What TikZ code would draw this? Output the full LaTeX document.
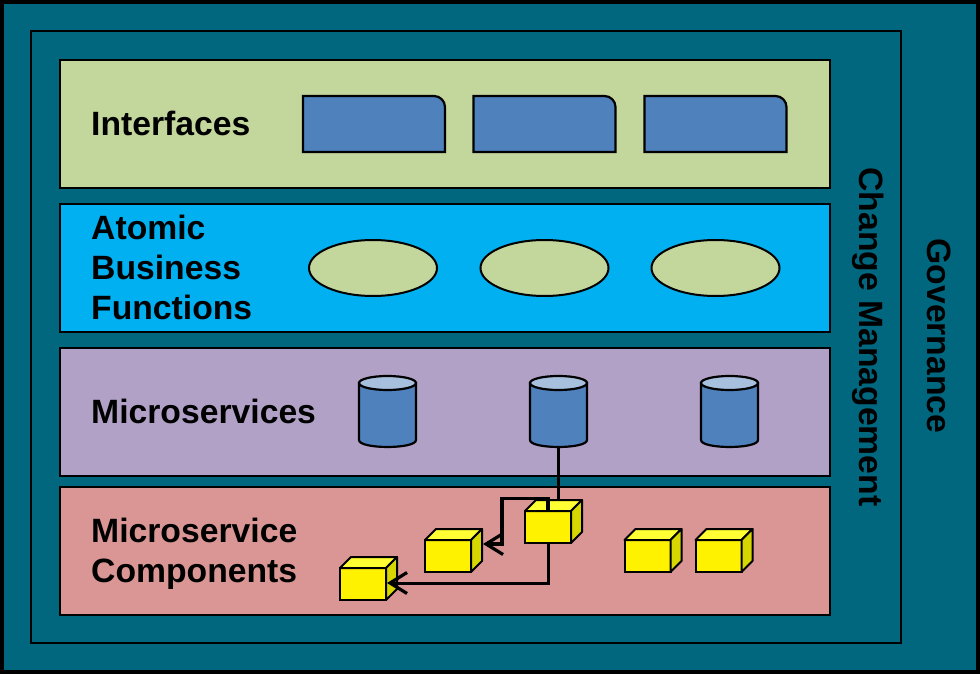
\documentclass[tikz,border=0pt]{standalone}
\usepackage{fontspec}
\setmainfont{Liberation Sans}
\usetikzlibrary{arrows.meta,shapes.geometric}
\definecolor{teal1}{HTML}{00677F}
\definecolor{greenb}{HTML}{C3D69B}
\definecolor{blueb}{HTML}{00B0F0}
\definecolor{purpb}{HTML}{B2A1C7}
\definecolor{redb}{HTML}{D99694}
\definecolor{shapeb}{HTML}{4F81BD}
\definecolor{cyltop}{HTML}{A7C0DE}
\definecolor{cubeside}{HTML}{D6D600}
\definecolor{cubetop}{HTML}{FFFF33}
\tikzset{
  frame/.style={draw=black,line width=2.6pt,fill=teal1,inner sep=0pt,outer sep=0pt},
  band/.style={draw=black,line width=2pt,inner sep=0pt,outer sep=0pt,minimum width=770pt,minimum height=128pt},
  lbl/.style={font=\bfseries\fontsize{33.7}{40}\selectfont,align=left,inner sep=0pt,anchor=west,text=black},
  vlbl/.style={font=\bfseries\fontsize{33.7}{40}\selectfont,inner sep=0pt,rotate=-90,text=black},
  tabshape/.style={inner sep=0pt,outer sep=0pt,minimum width=142pt,minimum height=56pt},
  oval/.style={ellipse,draw=black,line width=2pt,fill=greenb,inner sep=0pt,outer sep=0pt,minimum width=128pt,minimum height=56pt},
  cylbox/.style={inner sep=0pt,outer sep=0pt,minimum width=57pt,minimum height=71pt},
  cubefront/.style={draw=black,line width=2pt,fill=yellow,inner sep=0pt,outer sep=0pt,minimum width=46pt,minimum height=32pt},
  link/.style={draw=black,line width=3pt},
  arrowlink/.style={link,-{Straight Barb[length=17pt,width=21pt,line width=3.2pt]}}
}
\newcommand{\tabbox}[2]{%
  \node[tabshape] (#1) at #2 {};
  \draw[draw=black,line width=2.2pt,fill=shapeb]
    (#1.south west) -- (#1.north west) -- ([xshift=-11pt]#1.north east)
    .. controls ([xshift=-5pt]#1.north east) and ([yshift=-5pt]#1.north east) .. ([yshift=-11pt]#1.north east) -- (#1.south east) -- cycle;
}
\newcommand{\cylbox}[2]{%
  \node[cylbox] (#1) at #2 {};
  \draw[draw=black,line width=2.2pt,fill=shapeb]
    ([yshift=-7pt]#1.north west) -- ([yshift=7pt]#1.south west)
    .. controls ([yshift=-2.3pt]#1.south west) and ([yshift=-2.3pt]#1.south east) .. ([yshift=7pt]#1.south east)
    -- ([yshift=-7pt]#1.north east) -- cycle;
  \draw[draw=black,line width=2.2pt,fill=cyltop]
    ([yshift=-7pt]#1.north) ellipse[x radius=28.5pt,y radius=7pt];
}
\newcommand{\cubebox}[2]{%
  \node[cubefront] (#1) at #2 {};
  \draw[draw=black,line width=2pt,fill=cubetop,line join=round]
    (#1.north west) -- ++(11,-11) -- ++(46,0) -- (#1.north east) -- cycle;
  \draw[draw=black,line width=2pt,fill=cubeside,line join=round]
    (#1.north east) -- ++(11,-11) -- ++(0,32) -- (#1.south east) -- cycle;
}
\begin{document}
\begin{tikzpicture}[x=1pt,y=-1pt]
\useasboundingbox (0,0) rectangle (980,674);
\fill[black] (0,0) rectangle (980,674);
\fill[teal1] (4,4) rectangle (976,670);
\node[frame,minimum width=870pt,minimum height=612pt] (inner) at (466,337) {};
\node[band,fill=greenb] (b1) at (445,124) {};
\node[band,fill=blueb] (b2) at (445,268) {};
\node[band,fill=purpb] (b3) at (445,412) {};
\node[band,fill=redb] (b4) at (445,551) {};
\node[lbl] (t1) at (91,123.5) {Interfaces};
\node[lbl] (t2) at (91,267.5) {Atomic\\Business\\Functions};
\node[lbl] (t3) at (91,411.5) {Microservices};
\node[lbl] (t4) at (91,553.5) {Microservice\\Components};
\node[vlbl] (t5) at (868,337) {Change Management};
\node[vlbl] (t6) at (939.5,336) {Governance};
\tabbox{i1}{(374,124)}
\tabbox{i2}{(544.5,124)}
\tabbox{i3}{(715.5,124)}
\node[oval] (e1) at (373,268) {};
\node[oval] (e2) at (544.5,268) {};
\node[oval] (e3) at (715.5,268) {};
\cylbox{m1}{(387.5,411.5)}
\cylbox{m2}{(558.5,411.5)}
\cylbox{m3}{(729.5,411.5)}
\coordinate (topjoin) at (558.5,500);
\draw[link] (m2.south) -- (topjoin);
\cubebox{c1}{(548,527)}
\cubebox{c2}{(448,556)}
\cubebox{c3}{(363,584)}
\cubebox{c4}{(647.5,556)}
\cubebox{c5}{(718.5,556)}
\coordinate (c2r) at (483,544);
\coordinate (c3r) at (387,583);
\coordinate (elbow) at (502,498.5);
\draw[arrowlink,line width=3.4pt] (c1.north) |- (elbow) |- (c2r);
\draw[arrowlink] (c1.south) |- (c3r);
\end{tikzpicture}
\end{document}
